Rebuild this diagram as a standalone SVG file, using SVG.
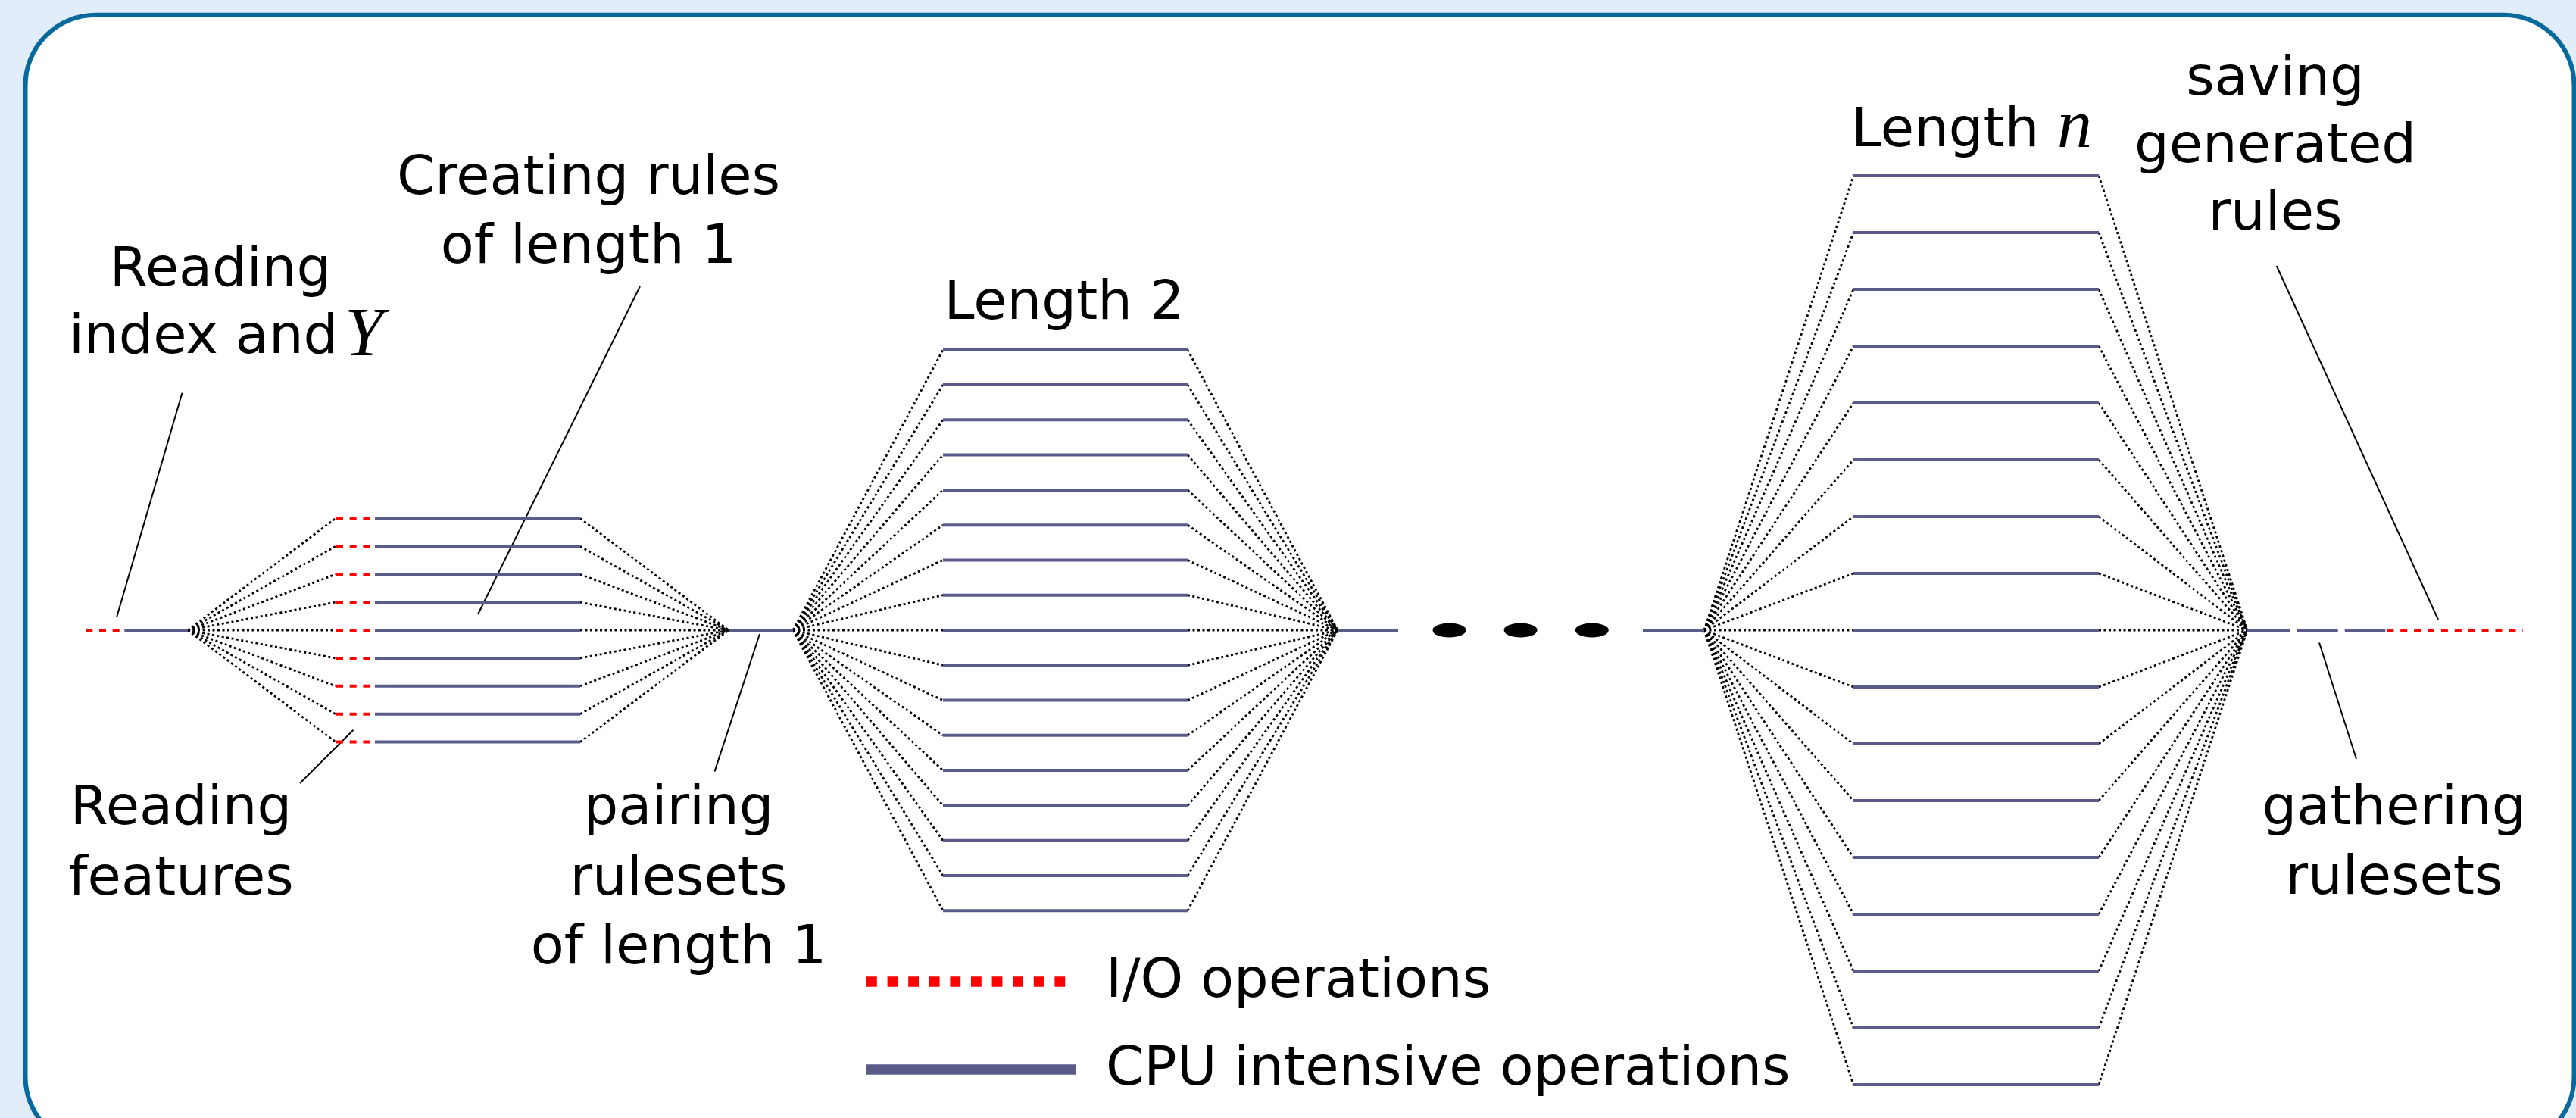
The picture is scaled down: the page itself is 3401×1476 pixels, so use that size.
<svg xmlns="http://www.w3.org/2000/svg" width="3401" height="1476" viewBox="0 0 3401 1476">
<style>
.lbl{font-family:"DejaVu Sans","Noto Sans",sans-serif;font-size:72px;fill:#000}
.math{font-family:"Liberation Serif","DejaVu Serif",serif;font-style:italic;font-size:92px;fill:#000}
.cpu{stroke:#5b5b8a;stroke-width:4;fill:none}
.io{stroke:#ff0000;stroke-width:4;fill:none;stroke-dasharray:9 8.7}
.fan{stroke:#000;stroke-width:2.8;fill:none;stroke-dasharray:3 3.5}
.lead{stroke:#000;stroke-width:2;fill:none}
</style>
<rect x="0" y="0" width="3401" height="1476" fill="#e1edf9"/>
<rect id="frame" x="33.5" y="19.7" width="3365" height="1495" rx="93" ry="93" fill="#fff" stroke="#08699d" stroke-width="6"/>

<g id="connectors">
  <!-- group 1 fans -->
  <g class="fan">
    <line x1="248" y1="832" x2="443" y2="684.4"/><line x1="248" y1="832" x2="443" y2="721.3"/><line x1="248" y1="832" x2="443" y2="758.2"/><line x1="248" y1="832" x2="443" y2="795.1"/><line x1="248" y1="832" x2="443" y2="832"/><line x1="248" y1="832" x2="443" y2="868.9"/><line x1="248" y1="832" x2="443" y2="905.8"/><line x1="248" y1="832" x2="443" y2="942.7"/><line x1="248" y1="832" x2="443" y2="979.6"/>
    <line x1="766" y1="684.4" x2="962" y2="832"/><line x1="766" y1="721.3" x2="962" y2="832"/><line x1="766" y1="758.2" x2="962" y2="832"/><line x1="766" y1="795.1" x2="962" y2="832"/><line x1="766" y1="832" x2="962" y2="832"/><line x1="766" y1="868.9" x2="962" y2="832"/><line x1="766" y1="905.8" x2="962" y2="832"/><line x1="766" y1="942.7" x2="962" y2="832"/><line x1="766" y1="979.6" x2="962" y2="832"/>
  </g>
  <!-- group 2 fans -->
  <g class="fan">
    <line x1="1047" y1="832" x2="1245" y2="461.8"/><line x1="1047" y1="832" x2="1245" y2="508"/><line x1="1047" y1="832" x2="1245" y2="554.3"/><line x1="1047" y1="832" x2="1245" y2="600.6"/><line x1="1047" y1="832" x2="1245" y2="646.9"/><line x1="1047" y1="832" x2="1245" y2="693.2"/><line x1="1047" y1="832" x2="1245" y2="739.4"/><line x1="1047" y1="832" x2="1245" y2="785.7"/><line x1="1047" y1="832" x2="1245" y2="832"/><line x1="1047" y1="832" x2="1245" y2="878.3"/><line x1="1047" y1="832" x2="1245" y2="924.6"/><line x1="1047" y1="832" x2="1245" y2="970.8"/><line x1="1047" y1="832" x2="1245" y2="1017.1"/><line x1="1047" y1="832" x2="1245" y2="1063.4"/><line x1="1047" y1="832" x2="1245" y2="1109.7"/><line x1="1047" y1="832" x2="1245" y2="1156"/><line x1="1047" y1="832" x2="1245" y2="1202.2"/>
    <line x1="1568" y1="461.8" x2="1766" y2="832"/><line x1="1568" y1="508" x2="1766" y2="832"/><line x1="1568" y1="554.3" x2="1766" y2="832"/><line x1="1568" y1="600.6" x2="1766" y2="832"/><line x1="1568" y1="646.9" x2="1766" y2="832"/><line x1="1568" y1="693.2" x2="1766" y2="832"/><line x1="1568" y1="739.4" x2="1766" y2="832"/><line x1="1568" y1="785.7" x2="1766" y2="832"/><line x1="1568" y1="832" x2="1766" y2="832"/><line x1="1568" y1="878.3" x2="1766" y2="832"/><line x1="1568" y1="924.6" x2="1766" y2="832"/><line x1="1568" y1="970.8" x2="1766" y2="832"/><line x1="1568" y1="1017.1" x2="1766" y2="832"/><line x1="1568" y1="1063.4" x2="1766" y2="832"/><line x1="1568" y1="1109.7" x2="1766" y2="832"/><line x1="1568" y1="1156" x2="1766" y2="832"/><line x1="1568" y1="1202.2" x2="1766" y2="832"/>
  </g>
  <!-- group n fans -->
  <g class="fan">
    <line x1="2250" y1="832" x2="2447" y2="232"/><line x1="2250" y1="832" x2="2447" y2="307"/><line x1="2250" y1="832" x2="2447" y2="382"/><line x1="2250" y1="832" x2="2447" y2="457"/><line x1="2250" y1="832" x2="2447" y2="532"/><line x1="2250" y1="832" x2="2447" y2="607"/><line x1="2250" y1="832" x2="2447" y2="682"/><line x1="2250" y1="832" x2="2447" y2="757"/><line x1="2250" y1="832" x2="2447" y2="832"/><line x1="2250" y1="832" x2="2447" y2="907"/><line x1="2250" y1="832" x2="2447" y2="982"/><line x1="2250" y1="832" x2="2447" y2="1057"/><line x1="2250" y1="832" x2="2447" y2="1132"/><line x1="2250" y1="832" x2="2447" y2="1207"/><line x1="2250" y1="832" x2="2447" y2="1282"/><line x1="2250" y1="832" x2="2447" y2="1357"/><line x1="2250" y1="832" x2="2447" y2="1432"/>
    <line x1="2771" y1="232" x2="2967" y2="832"/><line x1="2771" y1="307" x2="2967" y2="832"/><line x1="2771" y1="382" x2="2967" y2="832"/><line x1="2771" y1="457" x2="2967" y2="832"/><line x1="2771" y1="532" x2="2967" y2="832"/><line x1="2771" y1="607" x2="2967" y2="832"/><line x1="2771" y1="682" x2="2967" y2="832"/><line x1="2771" y1="757" x2="2967" y2="832"/><line x1="2771" y1="832" x2="2967" y2="832"/><line x1="2771" y1="907" x2="2967" y2="832"/><line x1="2771" y1="982" x2="2967" y2="832"/><line x1="2771" y1="1057" x2="2967" y2="832"/><line x1="2771" y1="1132" x2="2967" y2="832"/><line x1="2771" y1="1207" x2="2967" y2="832"/><line x1="2771" y1="1282" x2="2967" y2="832"/><line x1="2771" y1="1357" x2="2967" y2="832"/><line x1="2771" y1="1432" x2="2967" y2="832"/>
  </g>
  <!-- leader lines -->
  <g class="lead">
    <line x1="240.5" y1="518.7" x2="154" y2="815"/>
    <line x1="845" y1="378" x2="631" y2="811"/>
    <line x1="466.5" y1="963.7" x2="396" y2="1034"/>
    <line x1="1003" y1="837" x2="943.5" y2="1018.5"/>
    <line x1="3005.7" y1="351" x2="3219" y2="818"/>
    <line x1="3062" y1="848.5" x2="3111" y2="1002"/>
  </g>
</g>

<g id="start">
  <line class="io" x1="113.3" y1="832" x2="158" y2="832"/>
  <line class="cpu" x1="164.3" y1="832" x2="248" y2="832"/>
</g>

<g id="length1">
  <g class="io">
    <line x1="444" y1="684.4" x2="489" y2="684.4"/><line x1="444" y1="721.3" x2="489" y2="721.3"/><line x1="444" y1="758.2" x2="489" y2="758.2"/><line x1="444" y1="795.1" x2="489" y2="795.1"/><line x1="444" y1="832" x2="489" y2="832"/><line x1="444" y1="868.9" x2="489" y2="868.9"/><line x1="444" y1="905.8" x2="489" y2="905.8"/><line x1="444" y1="942.7" x2="489" y2="942.7"/><line x1="444" y1="979.6" x2="489" y2="979.6"/>
  </g>
  <g class="cpu">
    <line x1="495" y1="684.4" x2="766" y2="684.4"/><line x1="495" y1="721.3" x2="766" y2="721.3"/><line x1="495" y1="758.2" x2="766" y2="758.2"/><line x1="495" y1="795.1" x2="766" y2="795.1"/><line x1="495" y1="832" x2="766" y2="832"/><line x1="495" y1="868.9" x2="766" y2="868.9"/><line x1="495" y1="905.8" x2="766" y2="905.8"/><line x1="495" y1="942.7" x2="766" y2="942.7"/><line x1="495" y1="979.6" x2="766" y2="979.6"/>
  </g>
</g>

<g id="pairing1">
  <line class="cpu" x1="962" y1="832" x2="1047" y2="832"/>
</g>

<g id="length2" class="cpu">
  <line x1="1245" y1="461.8" x2="1568" y2="461.8"/><line x1="1245" y1="508" x2="1568" y2="508"/><line x1="1245" y1="554.3" x2="1568" y2="554.3"/><line x1="1245" y1="600.6" x2="1568" y2="600.6"/><line x1="1245" y1="646.9" x2="1568" y2="646.9"/><line x1="1245" y1="693.2" x2="1568" y2="693.2"/><line x1="1245" y1="739.4" x2="1568" y2="739.4"/><line x1="1245" y1="785.7" x2="1568" y2="785.7"/><line x1="1245" y1="832" x2="1568" y2="832"/><line x1="1245" y1="878.3" x2="1568" y2="878.3"/><line x1="1245" y1="924.6" x2="1568" y2="924.6"/><line x1="1245" y1="970.8" x2="1568" y2="970.8"/><line x1="1245" y1="1017.1" x2="1568" y2="1017.1"/><line x1="1245" y1="1063.4" x2="1568" y2="1063.4"/><line x1="1245" y1="1109.7" x2="1568" y2="1109.7"/><line x1="1245" y1="1156" x2="1568" y2="1156"/><line x1="1245" y1="1202.2" x2="1568" y2="1202.2"/>
</g>

<g id="pairing2">
  <line class="cpu" x1="1766" y1="832" x2="1846" y2="832"/>
</g>

<g id="ellipsis" fill="#000">
  <ellipse cx="1913.5" cy="832" rx="22" ry="9.5"/>
  <ellipse cx="2007.6" cy="832" rx="22" ry="9.5"/>
  <ellipse cx="2101.8" cy="832" rx="22" ry="9.5"/>
</g>

<g id="pairingn">
  <line class="cpu" x1="2169" y1="832" x2="2250" y2="832"/>
</g>

<g id="lengthn" class="cpu">
  <line x1="2447" y1="232" x2="2771" y2="232"/><line x1="2447" y1="307" x2="2771" y2="307"/><line x1="2447" y1="382" x2="2771" y2="382"/><line x1="2447" y1="457" x2="2771" y2="457"/><line x1="2447" y1="532" x2="2771" y2="532"/><line x1="2447" y1="607" x2="2771" y2="607"/><line x1="2447" y1="682" x2="2771" y2="682"/><line x1="2447" y1="757" x2="2771" y2="757"/><line x1="2447" y1="832" x2="2771" y2="832"/><line x1="2447" y1="907" x2="2771" y2="907"/><line x1="2447" y1="982" x2="2771" y2="982"/><line x1="2447" y1="1057" x2="2771" y2="1057"/><line x1="2447" y1="1132" x2="2771" y2="1132"/><line x1="2447" y1="1207" x2="2771" y2="1207"/><line x1="2447" y1="1282" x2="2771" y2="1282"/><line x1="2447" y1="1357" x2="2771" y2="1357"/><line x1="2447" y1="1432" x2="2771" y2="1432"/>
</g>

<g id="gathering">
  <line class="cpu" x1="2967" y1="832" x2="3024" y2="832"/>
  <line class="cpu" x1="3033" y1="832" x2="3086.7" y2="832"/>
  <line class="cpu" x1="3095.7" y1="832" x2="3149.3" y2="832"/>
</g>

<g id="saving">
  <line class="io" x1="3151.3" y1="832" x2="3331" y2="832" style="stroke-dasharray:9 8.9"/>
</g>

<g id="labels">
  <g id="label-reading-index">
    <text class="lbl" x="291" y="377" text-anchor="middle">Reading</text>
    <text class="lbl" x="91" y="466">index and</text>
    <text class="math" x="455" y="469">Y</text>
  </g>
  <g id="label-creating">
    <text class="lbl" x="777" y="256" text-anchor="middle">Creating rules</text>
    <text class="lbl" x="777" y="347" text-anchor="middle">of length 1</text>
  </g>
  <g id="label-length2">
    <text class="lbl" x="1405" y="421" text-anchor="middle">Length 2</text>
  </g>
  <g id="label-lengthn">
    <text class="lbl" x="2444" y="193">Length</text>
    <text class="math" x="2716" y="194">n</text>
  </g>
  <g id="label-saving">
    <text class="lbl" x="3004" y="125" text-anchor="middle">saving</text>
    <text class="lbl" x="3004" y="214" text-anchor="middle">generated</text>
    <text class="lbl" x="3004" y="303" text-anchor="middle">rules</text>
  </g>
  <g id="label-reading-features">
    <text class="lbl" x="239" y="1088" text-anchor="middle">Reading</text>
    <text class="lbl" x="239" y="1181" text-anchor="middle">features</text>
  </g>
  <g id="label-pairing">
    <text class="lbl" x="896" y="1088" text-anchor="middle">pairing</text>
    <text class="lbl" x="896" y="1181" text-anchor="middle">rulesets</text>
    <text class="lbl" x="896" y="1272" text-anchor="middle">of length 1</text>
  </g>
  <g id="label-gathering">
    <text class="lbl" x="3161" y="1088" text-anchor="middle">gathering</text>
    <text class="lbl" x="3161" y="1180" text-anchor="middle">rulesets</text>
  </g>
</g>

<g id="legend">
  <line x1="1144" y1="1296" x2="1421" y2="1296" stroke="#ff0000" stroke-width="13.5" stroke-dasharray="13.8 13.8"/>
  <line x1="1144" y1="1412" x2="1421" y2="1412" stroke="#5b5b8a" stroke-width="13.7"/>
  <text class="lbl" x="1460" y="1316">I/O operations</text>
  <text class="lbl" x="1460" y="1432">CPU intensive operations</text>
</g>
</svg>
